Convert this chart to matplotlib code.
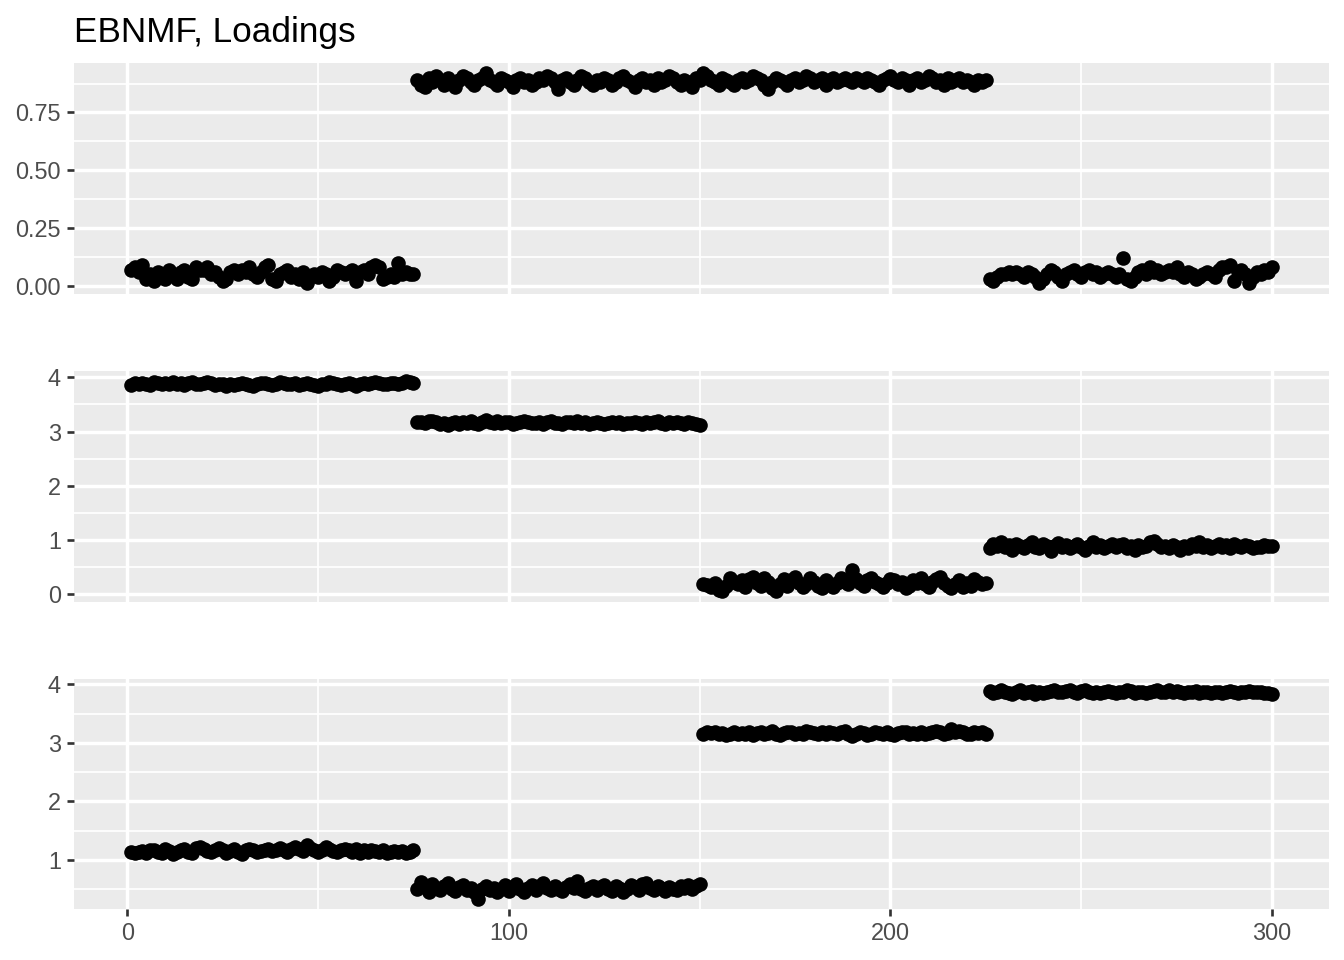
import numpy as np
import matplotlib
matplotlib.use("Agg")
import matplotlib.pyplot as plt
from matplotlib.ticker import FixedLocator

plt.rcParams['font.family'] = ['Liberation Sans', 'DejaVu Sans']

title = "EBNMF, Loadings"

p1a = [0.07,0.08,0.06,0.09,0.03,0.05,0.02,0.06,0.04,0.03,
       0.07,0.05,0.03,0.06,0.07,0.04,0.03,0.08,0.07,0.07,
       0.08,0.05,0.06,0.04,0.02,0.03,0.06,0.07,0.05,0.07,
       0.06,0.08,0.05,0.04,0.06,0.08,0.09,0.03,0.02,0.05,
       0.06,0.07,0.04,0.05,0.03,0.06,0.01,0.04,0.05,0.04,
       0.06,0.05,0.02,0.04,0.07,0.06,0.05,0.06,0.07,0.02,
       0.06,0.07,0.05,0.08,0.09,0.08,0.03,0.04,0.05,0.04,
       0.10,0.05,0.06,0.05,0.05]
p1b = [0.89,0.87,0.86,0.90,0.88,0.91,0.89,0.87,0.90,0.88,
       0.86,0.89,0.91,0.90,0.88,0.87,0.89,0.90,0.92,0.89,
       0.88,0.87,0.90,0.89,0.88,0.86,0.89,0.90,0.88,0.89,
       0.87,0.88,0.90,0.89,0.91,0.90,0.88,0.85,0.89,0.90,
       0.88,0.87,0.89,0.91,0.90,0.88,0.87,0.89,0.88,0.90,
       0.89,0.87,0.88,0.90,0.91,0.89,0.88,0.86,0.89,0.90,
       0.88,0.89,0.87,0.90,0.88,0.89,0.91,0.90,0.88,0.87,
       0.89,0.88,0.86,0.90,0.89,0.92,0.91,0.89,0.88,0.87,
       0.90,0.89,0.88,0.87,0.89,0.90,0.88,0.89,0.91,0.90,
       0.89,0.87,0.85,0.88,0.90,0.89,0.88,0.87,0.89,0.90,
       0.88,0.89,0.91,0.90,0.88,0.89,0.90,0.87,0.89,0.90,
       0.88,0.89,0.90,0.89,0.88,0.90,0.89,0.88,0.90,0.89,
       0.88,0.87,0.89,0.90,0.91,0.89,0.88,0.90,0.89,0.87,
       0.89,0.90,0.88,0.89,0.91,0.90,0.88,0.89,0.87,0.90,
       0.88,0.89,0.90,0.88,0.89,0.88,0.87,0.89,0.88,0.89]
p1c = [0.03,0.02,0.04,0.05,0.05,0.06,0.05,0.06,0.05,0.04,
       0.06,0.05,0.04,0.01,0.03,0.05,0.07,0.06,0.04,0.02,
       0.05,0.06,0.07,0.05,0.04,0.06,0.07,0.05,0.06,0.04,
       0.05,0.06,0.05,0.04,0.05,0.12,0.03,0.02,0.04,0.06,
       0.07,0.05,0.08,0.06,0.07,0.05,0.06,0.07,0.06,0.08,
       0.05,0.04,0.06,0.05,0.03,0.04,0.05,0.06,0.05,0.04,
       0.07,0.08,0.08,0.09,0.02,0.06,0.07,0.05,0.01,0.04,
       0.06,0.05,0.07,0.06,0.08]

p2a = [3.86,3.89,3.87,3.90,3.88,3.86,3.91,3.89,3.87,3.90,
       3.88,3.91,3.87,3.89,3.86,3.90,3.92,3.88,3.87,3.89,
       3.91,3.90,3.86,3.88,3.87,3.85,3.88,3.86,3.87,3.89,
       3.88,3.86,3.84,3.87,3.89,3.90,3.87,3.86,3.88,3.91,
       3.89,3.87,3.88,3.90,3.86,3.87,3.89,3.88,3.86,3.85,
       3.87,3.88,3.91,3.90,3.88,3.86,3.87,3.89,3.88,3.85,
       3.87,3.89,3.88,3.90,3.91,3.89,3.87,3.88,3.90,3.89,
       3.88,3.90,3.93,3.91,3.89]
p2b = [3.17,3.18,3.16,3.19,3.20,3.17,3.14,3.15,3.12,3.16,
       3.18,3.14,3.17,3.15,3.19,3.16,3.13,3.18,3.22,3.17,
       3.16,3.19,3.15,3.18,3.17,3.14,3.16,3.18,3.20,3.17,
       3.15,3.16,3.18,3.14,3.17,3.19,3.15,3.16,3.13,3.17,
       3.18,3.16,3.19,3.15,3.17,3.14,3.16,3.18,3.15,3.13,
       3.16,3.17,3.15,3.18,3.14,3.16,3.15,3.17,3.16,3.14,
       3.18,3.15,3.17,3.19,3.16,3.14,3.17,3.15,3.18,3.16,
       3.14,3.17,3.15,3.13,3.12]
p2c = [0.18,0.16,0.12,0.20,0.08,0.05,0.15,0.30,0.22,0.18,
       0.25,0.12,0.28,0.32,0.20,0.15,0.30,0.22,0.10,0.05,
       0.18,0.28,0.15,0.25,0.32,0.20,0.12,0.18,0.30,0.22,
       0.15,0.10,0.25,0.18,0.12,0.20,0.30,0.22,0.18,0.45,
       0.28,0.20,0.15,0.25,0.30,0.22,0.18,0.12,0.20,0.28,
       0.25,0.18,0.22,0.10,0.15,0.25,0.20,0.30,0.18,0.12,
       0.22,0.28,0.32,0.20,0.15,0.10,0.18,0.25,0.12,0.20,
       0.15,0.28,0.22,0.18,0.20]
p2d = [0.85,0.92,0.88,0.95,0.86,0.90,0.82,0.93,0.88,0.85,
       0.90,0.96,0.87,0.84,0.92,0.89,0.80,0.88,0.94,0.86,
       0.91,0.85,0.88,0.93,0.86,0.82,0.89,0.95,0.87,0.90,
       0.84,0.88,0.92,0.86,0.90,0.93,0.85,0.88,0.81,0.91,
       0.87,0.89,0.95,0.98,0.92,0.86,0.88,0.84,0.90,0.87,
       0.82,0.89,0.85,0.92,0.88,0.95,0.86,0.90,0.84,0.89,
       0.92,0.87,0.90,0.85,0.93,0.88,0.86,0.91,0.89,0.84,
       0.87,0.86,0.90,0.88,0.89]

p3a = [1.14,1.12,1.13,1.15,1.11,1.17,1.16,1.14,1.12,1.18,
       1.15,1.10,1.13,1.17,1.19,1.14,1.12,1.20,1.22,1.18,
       1.15,1.13,1.17,1.20,1.16,1.12,1.15,1.18,1.14,1.10,
       1.16,1.19,1.17,1.14,1.15,1.16,1.18,1.15,1.17,1.20,
       1.16,1.14,1.18,1.21,1.19,1.15,1.25,1.20,1.17,1.14,
       1.16,1.22,1.18,1.15,1.13,1.17,1.19,1.16,1.14,1.18,
       1.12,1.16,1.14,1.17,1.15,1.13,1.16,1.12,1.14,1.15,
       1.13,1.15,1.12,1.14,1.16]
p3b = [0.50,0.62,0.55,0.45,0.58,0.52,0.48,0.55,0.60,0.50,
       0.46,0.53,0.57,0.49,0.52,0.44,0.33,0.50,0.55,0.48,
       0.52,0.45,0.50,0.56,0.47,0.53,0.58,0.50,0.45,0.52,
       0.57,0.49,0.55,0.60,0.52,0.48,0.55,0.50,0.47,0.53,
       0.58,0.51,0.63,0.50,0.46,0.52,0.55,0.49,0.53,0.57,
       0.50,0.47,0.55,0.52,0.45,0.50,0.56,0.53,0.48,0.58,
       0.60,0.52,0.49,0.55,0.51,0.46,0.53,0.50,0.48,0.55,
       0.52,0.57,0.50,0.55,0.58]
p3c = [3.16,3.18,3.17,3.19,3.15,3.17,3.14,3.16,3.18,3.15,
       3.17,3.16,3.19,3.14,3.17,3.18,3.15,3.17,3.20,3.16,
       3.14,3.17,3.19,3.18,3.15,3.17,3.16,3.20,3.18,3.17,
       3.15,3.19,3.16,3.18,3.17,3.15,3.18,3.20,3.16,3.12,
       3.15,3.18,3.17,3.14,3.16,3.19,3.17,3.15,3.18,3.16,
       3.14,3.17,3.19,3.18,3.16,3.17,3.15,3.18,3.16,3.17,
       3.19,3.21,3.18,3.16,3.17,3.23,3.19,3.20,3.18,3.16,
       3.15,3.19,3.17,3.18,3.16]
p3d = [3.89,3.86,3.88,3.90,3.87,3.85,3.83,3.88,3.90,3.86,
       3.87,3.89,3.84,3.88,3.86,3.87,3.89,3.90,3.88,3.87,
       3.89,3.91,3.88,3.86,3.89,3.90,3.87,3.85,3.88,3.86,
       3.87,3.89,3.88,3.86,3.87,3.88,3.90,3.89,3.86,3.87,
       3.88,3.85,3.87,3.89,3.91,3.88,3.87,3.90,3.88,3.89,
       3.87,3.86,3.88,3.87,3.89,3.86,3.88,3.87,3.85,3.88,
       3.87,3.86,3.88,3.89,3.87,3.86,3.88,3.87,3.89,3.88,
       3.87,3.88,3.86,3.85,3.83]

panel1 = p1a + p1b + p1c
panel2 = p2a + p2b + p2c + p2d
panel3 = p3a + p3b + p3c + p3d
x_index = list(range(1, 301))

x_ticks = [0, 100, 200, 300]
x_minor = [50, 150, 250]
panel_ticks = [
    ([0.0, 0.25, 0.50, 0.75], ["0.00", "0.25", "0.50", "0.75"]),
    ([0, 1, 2, 3, 4], ["0", "1", "2", "3", "4"]),
    ([1, 2, 3, 4], ["1", "2", "3", "4"]),
]
panels = [panel1, panel2, panel3]

W, H = 1344, 960
fig = plt.figure(figsize=(7, 5), dpi=192)

left = 74 / W
width = (1329 - 74) / W
boxes = [(62.7, 294.0), (370.7, 601.7), (679.3, 909.3)]

for i, (vals, (yt, ytl)) in enumerate(zip(panels, panel_ticks)):
    top, bot = boxes[i]
    ax = fig.add_axes([left, 1 - bot / H, width, (bot - top) / H])
    ax.set_facecolor("#EBEBEB")
    for s in ax.spines.values():
        s.set_visible(False)
    ax.scatter(x_index, vals, s=30, color="black", linewidths=0, zorder=3)

    xr = max(x_index) - min(x_index)
    ax.set_xlim(min(x_index) - 0.05 * xr, max(x_index) + 0.05 * xr)
    ymin, ymax = min(vals), max(vals)
    yr = ymax - ymin
    ax.set_ylim(ymin - 0.05 * yr, ymax + 0.05 * yr)

    step = yt[1] - yt[0]
    ymin_l, ymax_l = ax.get_ylim()
    ym = []
    v = yt[0] - step / 2
    while v <= ymax_l:
        if v >= ymin_l and all(abs(v - t) > 1e-9 for t in yt):
            ym.append(v)
        v += step
    ax.set_yticks(yt)
    ax.set_yticklabels(ytl)
    ax.yaxis.set_minor_locator(FixedLocator(ym))
    ax.set_xticks(x_ticks)
    ax.xaxis.set_minor_locator(FixedLocator(x_minor))

    ax.grid(which="major", color="white", linewidth=1.3, zorder=0)
    ax.grid(which="minor", color="white", linewidth=0.65, zorder=0)
    ax.set_axisbelow(True)

    ax.tick_params(axis="both", which="major", length=2.75, width=1.0,
                   color="#333333", labelcolor="#4D4D4D", labelsize=8.8, pad=2.2)
    ax.tick_params(axis="both", which="minor", length=0)
    if i < 2:
        ax.tick_params(axis="x", which="major", length=0, labelbottom=False)

fig.text(left, 1 - 42 / H, title, fontsize=13.2, color="black",
         ha="left", va="baseline")

fig.savefig("out.png", dpi=192)
